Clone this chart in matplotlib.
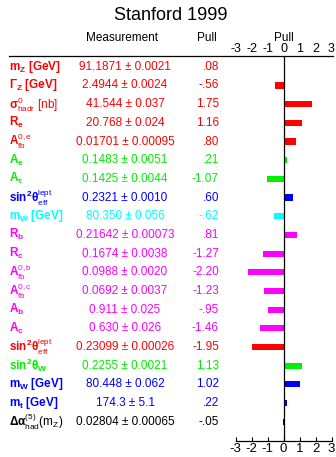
import numpy as np
import matplotlib
matplotlib.use('Agg')
import matplotlib.pyplot as plt
from matplotlib.lines import Line2D
import matplotlib.transforms as mtransforms

plt.rcParams['font.family'] = ['Liberation Sans', 'DejaVu Sans']
plt.rcParams['mathtext.fontset'] = 'custom'
plt.rcParams['mathtext.rm'] = 'Liberation Sans'
plt.rcParams['mathtext.bf'] = 'Liberation Sans:bold'
plt.rcParams['mathtext.it'] = 'Liberation Sans:italic'

# data
labels = [r'$\mathbf{m_Z\ [GeV]}$',
          r'$\mathbf{\Gamma_Z\ [GeV]}$',
          r'$\mathbf{\sigma^{\mathrm{0}}_{\mathrm{hadr}}}\ \mathrm{[nb]}$',
          r'$\mathbf{R_e}$',
          r'$\mathbf{A^{\mathrm{0,e}}_{\mathrm{fb}}}$',
          r'$\mathbf{A_e}$',
          r'$\mathbf{A_\tau}$',
          r'$\mathbf{sin^2\theta^{\mathrm{lept}}_{\mathrm{eff}}}$',
          r'$\mathbf{m_W\ [GeV]}$',
          r'$\mathbf{R_b}$',
          r'$\mathbf{R_c}$',
          r'$\mathbf{A^{\mathrm{0,b}}_{\mathrm{fb}}}$',
          r'$\mathbf{A^{\mathrm{0,c}}_{\mathrm{fb}}}$',
          r'$\mathbf{A_b}$',
          r'$\mathbf{A_c}$',
          r'$\mathbf{sin^2\theta^{\mathrm{lept}}_{\mathrm{eff}}}$',
          r'$\mathbf{sin^2\theta_W}$',
          r'$\mathbf{m_W\ [GeV]}$',
          r'$\mathbf{m_t\ [GeV]}$',
          r'$\mathbf{\Delta\alpha}^{(5)}_{\mathrm{had}}\mathrm{(m_Z)}$']
measurements = ['91.1871 ± 0.0021', '2.4944 ± 0.0024', '41.544 ± 0.037',
                '20.768 ± 0.024', '0.01701 ± 0.00095', '0.1483 ± 0.0051',
                '0.1425 ± 0.0044', '0.2321 ± 0.0010', '80.350 ± 0.056',
                '0.21642 ± 0.00073', '0.1674 ± 0.0038', '0.0988 ± 0.0020',
                '0.0692 ± 0.0037', '0.911 ± 0.025', '0.630 ± 0.026',
                '0.23099 ± 0.00026', '0.2255 ± 0.0021', '80.448 ± 0.062',
                '174.3 ± 5.1', '0.02804 ± 0.00065']
pull_text = ['.08', '-.56', '1.75', '1.16', '.80', '.21', '-1.07', '.60', '-.62',
             '.81', '-1.27', '-2.20', '-1.23', '-.95', '-1.46', '-1.95', '1.13',
             '1.02', '.22', '-.05']
pulls = [0.08, -0.56, 1.75, 1.16, 0.80, 0.21, -1.07, 0.60, -0.62, 0.81, -1.27,
         -2.20, -1.23, -0.95, -1.46, -1.95, 1.13, 1.02, 0.22, -0.05]
pull_ticks = [-3, -2, -1, 0, 1, 2, 3]
colors = ['#ff0000'] * 5 + ['#00f000'] * 2 + ['#0000ff', '#00ffff'] + \
         ['#ff00ff'] * 6 + ['#ff0000', '#00f000', '#0000ff', '#0000ff', 'black']

W, H = 336, 457
fig = plt.figure(figsize=(W / 100, H / 100), dpi=100)

x0, x1 = 235.7, 331.5
ytop, ybot = 55.5, 440.5
row0, dy = 66.8, 18.68
ax = fig.add_axes([x0 / W, 1 - ybot / H, (x1 - x0) / W, (ybot - ytop) / H])
n = len(pulls)
y = np.arange(n)
ax.set_ylim(19 + (ybot - (row0 + 19 * dy)) / dy, -(row0 - ytop) / dy)
ax.set_xlim(-3, 3)
ax.barh(y, pulls, height=0.33, color=colors, linewidth=0)
ax.axvline(0, color='black', lw=0.9)
for s in ['left', 'right', 'top']:
    ax.spines[s].set_visible(False)
ax.spines['bottom'].set_linewidth(0.9)
ax.set_yticks([])
ax.set_xticks(pull_ticks)
ax.set_xticklabels([str(t) for t in pull_ticks])
ax.tick_params(axis='x', direction='in', length=3, width=0.8, labelsize=9.5,
               pad=1.5)

# pull scale on top, sitting on the rule
sec = ax.secondary_xaxis('top')
sec.set_xticks(pull_ticks)
sec.set_xticklabels([str(t) for t in pull_ticks])
sec.tick_params(length=0, pad=0, labelsize=9)
sec.spines['top'].set_visible(False)

# long top rule
fig.add_artist(Line2D([9 / W, 333 / W], [1 - ytop / H, 1 - ytop / H],
                      color='black', lw=0.9))

trans = mtransforms.blended_transform_factory(fig.transFigure, ax.transData)
for i in range(n):
    ax.text(9 / W, i, labels[i], transform=trans, color=colors[i],
            fontsize=8.5, fontweight='bold', ha='left', va='center')
    ax.text(125 / W, i, measurements[i], transform=trans, color=colors[i],
            fontsize=8.5, ha='center', va='center')
    ax.text(219 / W, i, pull_text[i], transform=trans, color=colors[i],
            fontsize=8.5, ha='right', va='center')

fig.text(171 / W, 1 - 16 / H, 'Stanford 1999', fontsize=13, ha='center', va='center')
fig.text(122 / W, 1 - 38 / H, 'Measurement', fontsize=8.5, ha='center', va='center')
fig.text(207 / W, 1 - 38 / H, 'Pull', fontsize=8.5, ha='center', va='center')
fig.text(283.5 / W, 1 - 38 / H, 'Pull', fontsize=8.5, ha='center', va='center')

fig.savefig('out.png', dpi=100)
